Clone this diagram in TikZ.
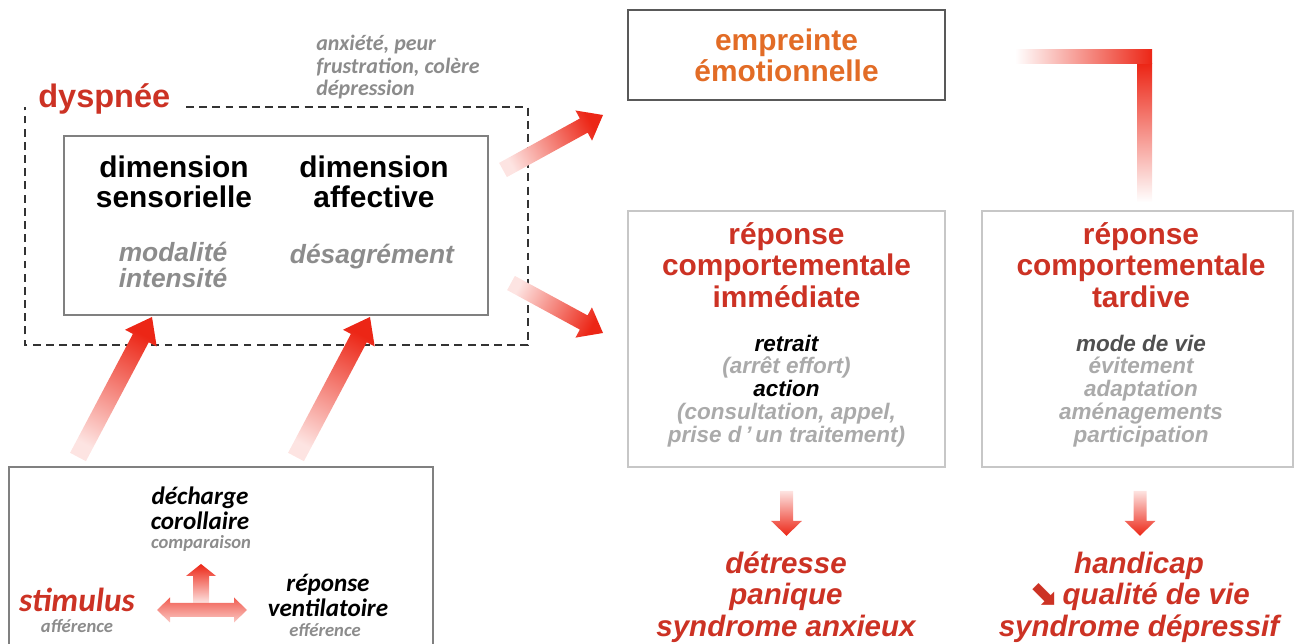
\documentclass[tikz,border=0pt]{standalone}
\usepackage{fontspec}
\setmainfont{Liberation Sans}
\newfontfamily\calib{Carlito}
\newfontfamily\symb{DejaVu Sans}
\usetikzlibrary{calc,positioning}
\definecolor{titlered}{RGB}{204,50,36}
\definecolor{emporange}{RGB}{226,108,38}
\definecolor{softgray}{RGB}{140,140,140}
\definecolor{palegray}{RGB}{170,170,170}
\definecolor{darkgray}{RGB}{80,80,80}
\definecolor{arrowred}{RGB}{236,38,22}
\definecolor{arrowpale}{RGB}{253,228,226}
\tikzset{
  boxframe/.style={draw=black!22, line width=0.9pt, inner sep=0pt},
  innerframe/.style={draw=black!50, line width=0.9pt, inner sep=0pt},
  darkframe/.style={draw=black!65, line width=0.9pt, inner sep=0pt},
  dashframe/.style={draw=black!80, line width=0.9pt, dash pattern=on 4.5pt off 3pt},
  dysp/.style={inner sep=0pt, text=titlered, font=\fontsize{18.5}{19}\selectfont\bfseries},
  emotext/.style={align=left, inner sep=0pt, text=softgray, font=\calib\fontsize{12.5}{12.8}\selectfont\bfseries\itshape},
  dimtitle/.style={align=center, inner sep=0pt, font=\fontsize{17}{17}\selectfont\bfseries},
  dimsub/.style={align=center, inner sep=0pt, text=softgray, font=\fontsize{15}{14.8}\selectfont\bfseries\itshape},
  emptitle/.style={align=center, text=emporange, font=\fontsize{17}{17.6}\selectfont\bfseries},
  resptitle/.style={align=center, inner sep=0pt, text=titlered, font=\fontsize{17}{18}\selectfont\bfseries},
  respbody/.style={align=center, inner sep=0pt, font=\fontsize{12.8}{13}\selectfont\bfseries\itshape},
  outcome/.style={align=center, inner sep=0pt, text=titlered, font=\fontsize{16.8}{17.9}\selectfont\bfseries\itshape},
  calibbig/.style={align=center, inner sep=0pt, font=\calib\fontsize{14.3}{14.2}\selectfont\bfseries\itshape},
  calibsmall/.style={align=center, inner sep=0pt, text=softgray, font=\calib\fontsize{10.6}{11}\selectfont\bfseries\itshape},
  stimtext/.style={inner sep=0pt, text=titlered, font=\calib\fontsize{19}{19}\selectfont\bfseries\itshape},
}
% thick shaded arrow: tail, tip, half shaft, half head, head length
\newcommand{\FatArrow}[5]{%
  \coordinate (fah) at ($(#2)!#5!(#1)$);
  \pgfmathanglebetweenpoints{\pgfpointanchor{#1}{center}}{\pgfpointanchor{#2}{center}}%
  \pgfmathsetmacro{\faAng}{\pgfmathresult-90}%
  \shade[top color=arrowred, bottom color=arrowpale, shading angle=\faAng]
    ($(#1)!#3!90:(#2)$) -- ($(fah)!#3!90:(#2)$) -- ($(fah)!#4!90:(#2)$) -- (#2)
    -- ($(fah)!#4!-90:(#2)$) -- ($(fah)!#3!-90:(#2)$) -- ($(#1)!#3!-90:(#2)$) -- cycle;
}

\begin{document}
\begin{tikzpicture}[x=0.02cm, y=-0.02cm]
  \useasboundingbox (0,0) rectangle (1295,644);
  % dyspnee frame
  \node[dysp, anchor=base west] (dyspnee) at (38,108) {dyspnée};
  \node[emotext, anchor=north west] (emotions) at (316,35) {anxiété, peur\\frustration, colère\\dépression};
  \draw[dashframe] (186,107) -- (528,107) -- (528,345) -- (25,345) -- (25,107);
  \node[innerframe, minimum width=8.48cm, minimum height=3.58cm] (inner) at (276,225.5) {};
  \node[dimtitle] (sensor) at (174,182) {dimension\\sensorielle};
  \node[dimsub] (sensorsub) at (173,265) {modalité\\intensité};
  \node[dimtitle] (affect) at (374,182) {dimension\\affective};
  \node[dimsub] (affectsub) at (372,257) {désagrément};

  % ventilatory loop
  \draw[innerframe] (9,644) -- (9,467) -- (433,467) -- (433,644);
  \node[calibbig] (decharge) at (200,508) {décharge\\corollaire};
  \node[calibsmall] (comparaison) at (201,543) {comparaison};
  \node[stimtext] (stimulus) at (77,600) {stimulus};
  \node[calibsmall] (afference) at (77,626) {afférence};
  \node[calibbig] (ventil) at (328,595) {réponse\\ventilatoire};
  \node[calibsmall] (efference) at (325,630) {efférence};
  \shade[top color=arrowred, bottom color=arrowpale]
    (193,603) -- (193,576) -- (186,576) -- (201,564) -- (216,576) -- (209,576) -- (209,603) -- cycle;
  \shade[top color=arrowred!75!white, bottom color=arrowred!25!white]
    (157,610) -- (170,597.5) -- (170,603) -- (234,603) -- (234,597.5) -- (247,610)
    -- (234,622.5) -- (234,617) -- (170,617) -- (170,622.5) -- cycle;

  % responses
  \node[darkframe, emptitle, minimum width=6.34cm, minimum height=1.8cm] (empreinte) at (786.5,55) {empreinte\\émotionnelle};
  \node[boxframe, minimum width=6.34cm, minimum height=5.12cm] (immed) at (786.5,339) {};
  \node[resptitle] (immedtitle) at (786.5,265) {réponse\\comportementale\\immédiate};
  \node[respbody] (immedbody) at (786.5,391) {retrait\\\textcolor{palegray}{(arrêt effort)}\\action\\\textcolor{palegray}{(consultation, appel,}\\\textcolor{palegray}{prise d\,’\,un traitement)}};
  \node[boxframe, minimum width=6.22cm, minimum height=5.12cm] (tardive) at (1137.5,339) {};
  \node[resptitle] (tardivetitle) at (1141,265) {réponse\\comportementale\\tardive};
  \node[respbody, text=palegray] (tardivebody) at (1141,391) {\textcolor{darkgray}{mode de vie}\\évitement\\adaptation\\aménagements\\participation};
  \node[outcome] (detresse) at (786,597) {détresse\\panique\\syndrome anxieux};
  \node[outcome] (handicap) at (1139,597) {handicap\\{\symb\bfseries\upshape\fontsize{20}{15}\selectfont ⬊}\,qualité de vie\\syndrome dépressif};

  % arrow ends
  \coordinate (a1s) at (78,457);   \coordinate (a1e) at (152,317);
  \coordinate (a2s) at (296,457);  \coordinate (a2e) at (370,317);
  \coordinate (a3s) at (503,170);  \coordinate (a3e) at (603,115);
  \coordinate (a4s) at (511,283);  \coordinate (a4e) at (603,333);
  \coordinate (d1s) at ($(immed.south)+(0,23)$);    \coordinate (d1e) at ($(immed.south)+(0,68)$);
  \coordinate (d2s) at ($(tardive.south)+(2.5,23)$); \coordinate (d2e) at ($(tardive.south)+(2.5,68)$);
  \FatArrow{a1s}{a1e}{5.1pt}{10.2pt}{13.6pt}
  \FatArrow{a2s}{a2e}{5.1pt}{10.2pt}{13.6pt}
  \FatArrow{a3s}{a3e}{4.6pt}{9.8pt}{12.5pt}
  \FatArrow{a4s}{a4e}{4.6pt}{9.8pt}{12.5pt}
  \FatArrow{d1s}{d1e}{3.7pt}{8.8pt}{8.5pt}
  \FatArrow{d2s}{d2e}{3.7pt}{8.8pt}{8.5pt}

  % feedback from late response
  \coordinate (fbs) at ($(tardive.north)+(7,-8)$);
  \shade[top color=arrowred, bottom color=white] (fbs) ++(-7.5,0) rectangle (1152,64);
  \shade[left color=white, right color=arrowred] (1015,50) rectangle (1152,64);
\end{tikzpicture}
\end{document}
